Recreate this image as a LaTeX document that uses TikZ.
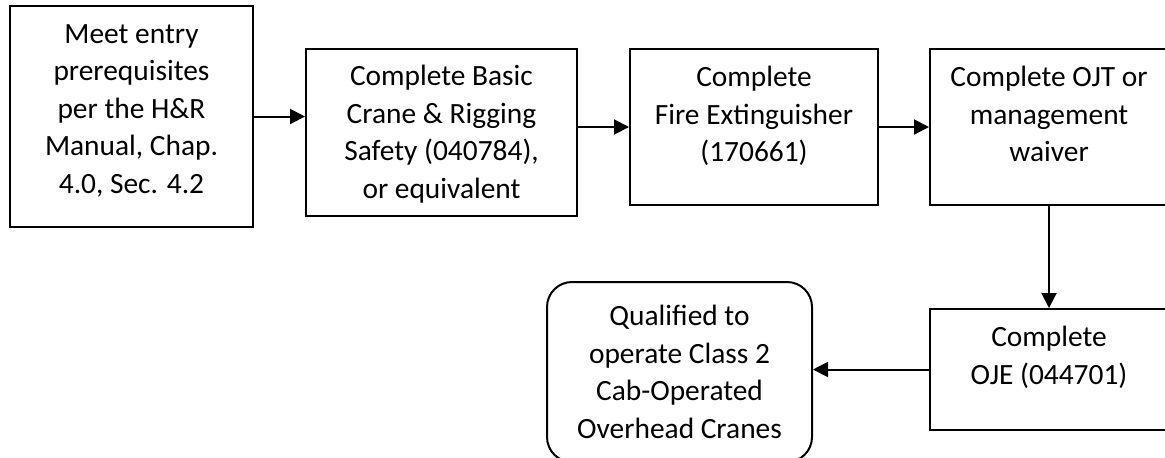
\documentclass[tikz,border=0pt]{standalone}
\usepackage{fontspec}
\setmainfont{Carlito}
\usetikzlibrary{positioning,arrows.meta}
\tikzset{
	stepbox/.style={draw,line width=1pt,inner sep=0pt},
	steptext/.style={align=center,inner sep=0pt,font=\fontsize{14.7}{18.75}\selectfont},
	flow/.style={line width=1pt,-{Triangle[length=7.5pt,width=7.5pt]}}
}

\begin{document}
\begin{tikzpicture}[x=0.5pt,y=-0.5pt]
\useasboundingbox (0,0) rectangle (1165,457);

%Cases
\node[stepbox,minimum width=121.5pt,minimum height=110.5pt] (prereq) at (131.5,116.5) {};
\node[stepbox,minimum width=135.5pt,minimum height=83.5pt] (basic) at (441.5,132.5) {};
\node[stepbox,minimum width=124pt,minimum height=78pt] (fire) at (754,127) {};
\node[stepbox,minimum width=119pt,minimum height=78pt] (ojt) at (1049,127) {};
\node[stepbox,minimum width=119pt,minimum height=60.5pt] (oje) at (1049,369.5) {};
\node[stepbox,steptext,rounded corners=12.5pt,minimum width=132.5pt,minimum height=90pt] (qual) at (679.5,372)
	{Qualified to\\operate Class 2\\Cab-Operated\\Overhead Cranes};

%Textes dans les cases
\node[steptext,below=9.5pt of prereq.north] (prereq-t) {Meet entry\\prerequisites\\per the H\&R\\Manual, Chap.\\4.0, Sec. 4.2};
\node[steptext,below=8.5pt of basic.north] (basic-t) {Complete Basic\\Crane \& Rigging\\Safety (040784),\\ or equivalent};
\node[steptext,below=9pt of fire.north] (fire-t) {Complete\\Fire Extinguisher\\(170661)};
\node[steptext,below=9pt of ojt.north] (ojt-t) {Complete OJT or\\management\\waiver};
\node[steptext,below=9pt of oje.north] (oje-t) {Complete\\OJE (044701)};

%Fleches
\draw[flow] (prereq.east) -- (prereq.east -| basic.west);
\draw[flow] (fire.west -| basic.east) -- (fire.west);
\draw[flow] (fire.east) -- (fire.east -| ojt.west);
\draw[flow] (ojt.south) -- (ojt.south |- oje.north);
\draw[flow] (oje.west) -- (oje.west -| qual.east);

\end{tikzpicture}
\end{document}
